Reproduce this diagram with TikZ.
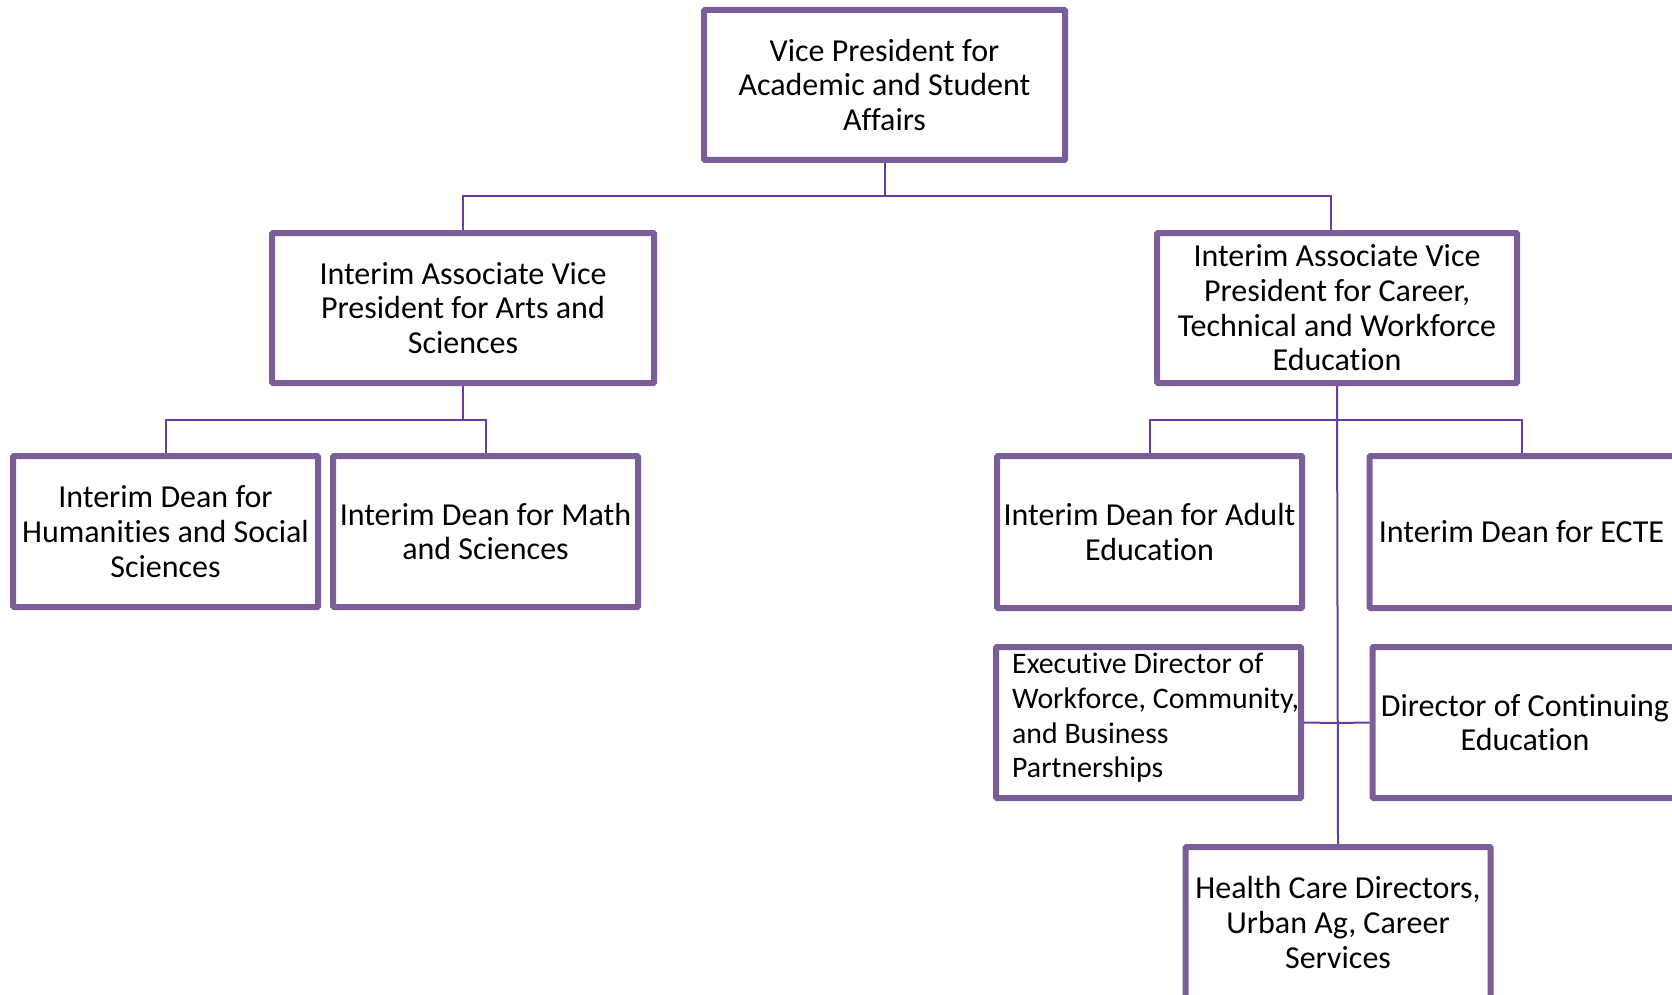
\documentclass[tikz,border=0pt]{standalone}
\usepackage{fontspec}
\setmainfont{Carlito}[Ligatures=NoCommon]
\definecolor{boxc}{RGB}{122,94,152}
\definecolor{linec}{RGB}{104,60,160}
\tikzset{
  orgbox/.style={draw=boxc, line width=6pt, fill=white, rectangle, rounded corners=1pt,
    inner sep=0pt, align=center, font=\fontsize{32}{34.7}\selectfont, text=black},
  conn/.style={draw=linec, line width=2pt},
  plaintext/.style={inner sep=0pt, align=left, font=\fontsize{29.8}{34.7}\selectfont, text=black},
}
\begin{document}
\begin{tikzpicture}[x=1pt,y=-1pt]
\useasboundingbox (0,0) rectangle (1672,995);
\clip (0,0) rectangle (1672,995);
\fill[white] (0,0) rectangle (1672,995);
% nodes
\node[orgbox, minimum width=361pt, minimum height=150pt] (top) at (884.5,85) {Vice President for\\Academic and Student\\Affairs};
\node[orgbox, minimum width=382pt, minimum height=150pt] (avpl) at (463,308) {Interim Associate Vice\\President for Arts and\\Sciences};
\node[orgbox, minimum width=360pt, minimum height=150pt] (avpr) at (1337,308) {Interim Associate Vice\\President for Career,\\Technical and Workforce\\Education};
\node[orgbox, minimum width=305pt, minimum height=151pt] (hum) at (165.5,531.5) {Interim Dean for\\Humanities and Social\\Sciences};
\node[orgbox, minimum width=305pt, minimum height=151pt] (math) at (485.5,531.5) {Interim Dean for Math\\and Sciences};
\node[orgbox, minimum width=305pt, minimum height=152pt] (adult) at (1149.5,532) {Interim Dean for Adult\\Education};
\node[orgbox, minimum width=308pt, minimum height=152pt] (ecte) at (1523.5,532) {\hspace*{-4pt}Interim Dean for ECTE};
\node[orgbox, minimum width=305pt, minimum height=151pt] (exec) at (1148.5,722.5) {};
\node[plaintext, anchor=north west] (exectxt) at (1012,653) {Executive Director of\\Workforce, Community,\\and Business\\Partnerships};
\node[orgbox, minimum width=305pt, minimum height=151pt] (dirce) at (1525,722.5) {Director of Continuing\\Education};
\node[orgbox, minimum width=305pt, minimum height=151pt] (health) at (1338,922.5) {Health Care Directors,\\Urban Ag, Career\\Services};
% connectors
\coordinate (b1) at (884.5,196);
\coordinate (b2) at (463,420);
\coordinate (b3) at (1337,420);
\coordinate (b4) at (1337,723);
\draw[conn] (top.south) -- (b1);
\draw[conn] (avpl.north) |- (b1);
\draw[conn] ([xshift=-6pt]avpr.north) |- (b1);
\draw[conn] (avpl.south) -- (b2);
\draw[conn] (hum.north) |- (b2);
\draw[conn] (math.north) |- (b2);
\draw[conn] (avpr.south) -- (health.north);
\draw[conn] (adult.north) |- (b3);
\draw[conn] ([xshift=-2pt]ecte.north) |- (b3);
\draw[conn] (exec.east) -- (b4);
\draw[conn] (dirce.west) -- (b4);
\end{tikzpicture}
\end{document}
